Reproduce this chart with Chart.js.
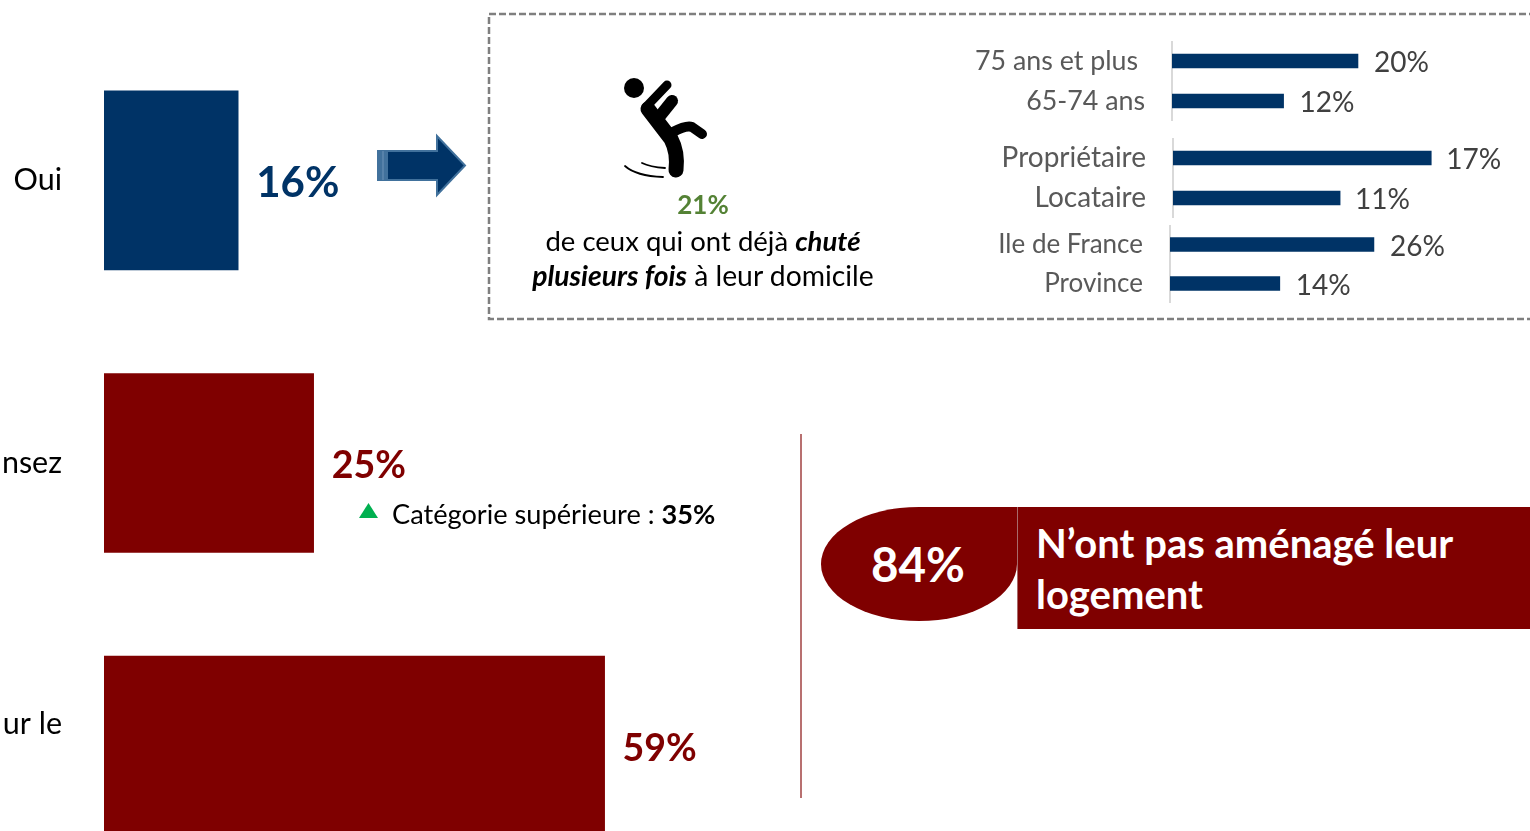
<!DOCTYPE html>
<html lang="fr">
<head>
<meta charset="utf-8">
<title>Aménagement du logement</title>
<script src="https://cdn.jsdelivr.net/npm/chart.js@4"></script>
<style>
  html, body { margin: 0; padding: 0; background: #fff; overflow: hidden; }
  #page { position: relative; width: 1530px; height: 831px; overflow: hidden; font-family: Lato, sans-serif; color: #000; }
  #page canvas, #page svg, .txt, .box { position: absolute; }
  .txt { white-space: nowrap; line-height: 1; }
  .center { transform: translateX(-50%); }
</style>
</head>
<body>
<div id="page">
  <svg style="left:0;top:0" width="1530" height="831">
    <rect x="489" y="14" width="1100" height="305" fill="none" stroke="#7f7f7f" stroke-width="2.5" stroke-dasharray="7 3"/>
    <line x1="801" y1="434" x2="801" y2="798" stroke="#a04040" stroke-width="1.5"/>
    <!-- fleche -->
    <path d="M378 151H437V136L465 165.500L437 195V180H378Z" fill="#003366" stroke="#41719c" stroke-width="2"/>
    <rect x="378" y="151" width="10" height="29" fill="#41719c"/>
    <line x1="383" y1="151" x2="383" y2="180" stroke="#6f94b8" stroke-width="1"/>
    <!-- chute -->
    <g stroke="#000" fill="none" stroke-linecap="round" stroke-linejoin="round">
      <circle cx="634" cy="88" r="10" fill="#000" stroke="none"/>
      <path d="M648 109L671 139Q678 152 676 170" stroke-width="15"/>
      <path d="M646 107L667 85" stroke-width="9"/>
      <path d="M660 116L672 101" stroke-width="12"/>
      <path d="M673 132Q686 125 692 127L702 134" stroke-width="10"/>
      <path d="M625 166Q636 176 663 177" stroke-width="1.800"/>
      <path d="M642 163Q650 167 665 168" stroke-width="1.800"/>
    </g>
    <polygon points="368.500,503 378,518 359,518" fill="#00b050"/>
  </svg>

  <canvas id="mainChart" width="800" height="848" style="left:0;top:39px"></canvas>
  <canvas id="ageChart" width="570" height="80" style="left:960px;top:41px"></canvas>
  <canvas id="statutChart" width="570" height="80" style="left:960px;top:138px"></canvas>
  <canvas id="regionChart" width="570" height="78" style="left:960px;top:225px"></canvas>

  <div class="txt center" style="left:703px;top:191px;font-size:26px;font-weight:700;color:#548235">21%</div>
  <div class="txt center" style="left:703px;top:227px;font-size:27.500px">de ceux qui ont déjà <b><i>chuté</i></b></div>
  <div class="txt center" style="left:703px;top:261px;font-size:28.300px"><b><i>plusieurs fois</i></b> à leur domicile</div>
  <div class="txt" style="left:392px;top:500px;font-size:27.200px">Catégorie supérieure : <b>35%</b></div>

  <div class="box" style="left:821px;top:507px;width:196px;height:114px;background:#7f0000;border-radius:50% 0 50% 50%"></div>
  <div class="box" style="left:1017px;top:507px;width:530px;height:122px;background:#7f0000;border-left:1px solid #a86a6a"></div>
  <div class="txt center" style="left:918px;top:540px;font-size:47.500px;font-weight:700;color:#fff">84%</div>
  <div class="txt" style="left:1036px;top:523px;font-size:40px;font-weight:700;color:#fff">N’ont pas aménagé leur</div>
  <div class="txt" style="left:1036px;top:574px;font-size:40px;font-weight:700;color:#fff">logement</div>
</div>

<script>
const NAVY = "#003366";
const RED = "#7f0000";

const mainLabels = ["Oui", "nsez", ["ur le", ""]];
const mainValues = [16, 25, 59.7];
const mainValueLabels = ["16%", "25%", "59%"];
const mainColors = [NAVY, RED, RED];
const mainValueFonts = ["700 42px Lato", "700 37.5px Lato", "700 37.5px Lato"];

const ageLabels = ["75 ans et plus ", "65-74 ans"];
const ageValues = [20, 12];

const statutLabels = ["Propriétaire", "Locataire"];
const statutValues = [17, 11];

const regionLabels = ["Ile de France", "Province"];
const regionValues = [26, 14];

// labels at the end of the bars, no datalabels plugin available here
const valueLabels = {
  id: "valueLabels",
  afterDatasetsDraw(chart, args, opts) {
    const ctx = chart.ctx;
    ctx.save();
    ctx.textBaseline = "middle";
    ctx.textAlign = "left";
    chart.getDatasetMeta(0).data.forEach((bar, i) => {
      ctx.font = Array.isArray(opts.font) ? opts.font[i] : opts.font;
      ctx.fillStyle = Array.isArray(opts.color) ? opts.color[i] : opts.color;
      ctx.fillText(opts.labels[i], bar.x + opts.gap, bar.y + opts.dy);
    });
    ctx.restore();
  }
};
Chart.register(valueLabels);

function drawBars(id, cfg) {
  return new Chart(document.getElementById(id), {
    type: "bar",
    data: {
      labels: cfg.labels,
      datasets: [{ data: cfg.values, backgroundColor: cfg.colors, barThickness: cfg.thickness }]
    },
    options: {
      indexAxis: "y",
      responsive: false,
      animation: false,
      layout: { padding: 0 },
      plugins: {
        legend: { display: false },
        tooltip: { enabled: false },
        valueLabels: cfg.valueOpts
      },
      scales: {
        x: { display: false, min: 0, max: cfg.xMax },
        y: {
          // tick padding would otherwise eat into the plot height
          afterFit: scale => {
            scale.width = cfg.axisWidth;
            scale.paddingTop = 0;
            scale.paddingBottom = 0;
          },
          grid: { display: false, drawTicks: false },
          border: cfg.border,
          ticks: { color: cfg.tickColor, padding: cfg.tickPadding, font: cfg.tickFont, autoSkip: false }
        }
      }
    }
  });
}

drawBars("mainChart", {
  labels: mainLabels, values: mainValues, colors: mainColors, thickness: 179,
  xMax: 83, axisWidth: 104, tickColor: "#000", tickPadding: 42,
  tickFont: { family: "Lato", size: 30.5, lineHeight: 1.38 },
  border: { display: false },
  valueOpts: { labels: mainValueLabels, color: mainColors, font: mainValueFonts, gap: 18, dy: 3 }
});

function drawInset(id, labels, values, axisWidth, xMax, tickSize, dy, gap) {
  drawBars(id, {
    labels, values, colors: NAVY, thickness: 14,
    xMax, axisWidth, tickColor: "#595959", tickPadding: 27,
    tickFont: { family: "Lato", size: tickSize },
    border: { display: true, color: "#d9d9d9", width: 2 },
    valueOpts: { labels: values.map(v => v + "%"), color: "#404040", font: "28px Lato", gap, dy }
  });
}

drawInset("ageChart", ageLabels, ageValues, 212, 38.5, 26.8, 2, 16);
drawInset("statutChart", statutLabels, statutValues, 213, 23.5, 28, 2, 15);
drawInset("regionChart", regionLabels, regionValues, 210, 45.9, 26, 2, 16);
</script>
</body>
</html>
